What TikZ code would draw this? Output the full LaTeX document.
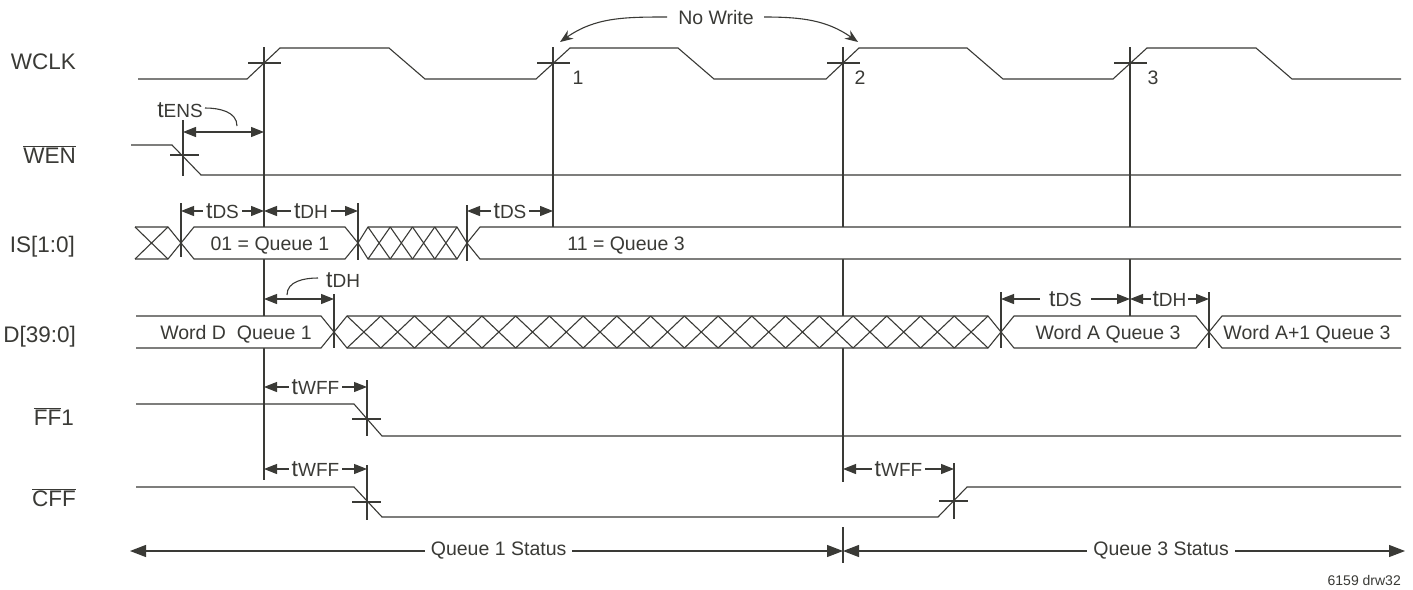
\documentclass[tikz,border=0pt]{standalone}
\usepackage{fontspec}
\setmainfont{Liberation Sans}
\usetikzlibrary{arrows.meta}
\definecolor{ink}{RGB}{58,58,54}
\newcommand{\tsym}[1]{{\fontsize{23}{23}\selectfont t}{\fontsize{19}{19}\selectfont #1}}
\newcommand{\hatchbus}[6]{%
  \pgfmathsetmacro{\hbw}{(#2-#1-2*#3)/#4}%
  \pgfmathsetmacro{\hbm}{(#5+#6)/2}%
  \draw[sig,fill=white] (#1,\hbm)--(#1+#3,#5)--(#2-#3,#5)--(#2,\hbm)--(#2-#3,#6)--(#1+#3,#6)--cycle;%
  \foreach \k in {1,...,#4}{%
    \pgfmathsetmacro{\xa}{#1+#3+(\k-1)*\hbw}%
    \pgfmathsetmacro{\xb}{\xa+\hbw}%
    \draw[sig] (\xa,#5)--(\xb,#6) (\xa,#6)--(\xb,#5);}%
}
\newcommand{\hexbus}[5]{%
  \pgfmathsetmacro{\hbm}{(#4+#5)/2}%
  \draw[sig,fill=white] (#1,\hbm)--(#1+#3,#4)--(#2-#3,#4)--(#2,\hbm)--(#2-#3,#5)--(#1+#3,#5)--cycle;%
}
\begin{document}
\begin{tikzpicture}[x=1pt,y=-1pt,
  sig/.style={draw=ink,line width=1.1pt},
  dim/.style={draw=ink,line width=1.1pt,{Triangle[length=13pt,width=10pt]}-{Triangle[length=13pt,width=10pt]}},
  bigdim/.style={draw=ink,line width=1.1pt,{Triangle[length=16pt,width=12pt]}-{Triangle[length=16pt,width=12pt]}},
  dl/.style={fill=white,text=ink,inner sep=3pt,font=\fontsize{19.5}{22}\selectfont},
  txt/.style={text=ink,inner sep=0pt,anchor=base,font=\fontsize{19.5}{22}\selectfont},
  siglab/.style={text=ink,inner sep=0pt,anchor=base east,font=\fontsize{22.5}{24}\selectfont},
  curv/.style={draw=ink,line width=1.1pt},
  nwarrow/.style={draw=ink,line width=1.1pt,-{Stealth[length=13pt,width=10pt]}},
]
\fill[white] (0,0) rectangle (1413,589);
\useasboundingbox (0,0) rectangle (1413,589);

% signal names
\node[siglab] (lwclk) at (76,69) {WCLK};
\node[siglab] (lwen) at (76,163) {$\overline{\mbox{WEN}}$};
\node[siglab] (lis) at (75,252) {IS[1:0]};
\node[siglab] (ld) at (76,342) {D[39:0]};
\node[siglab] (lff) at (74,425) {$\overline{\mbox{FF}}$1};
\node[siglab] (lcff) at (76,506) {$\overline{\mbox{CFF}}$};

% long vertical reference lines
\draw[sig] (264,47) -- (264,480);
\draw[sig] (553,47) -- (553,227);
\draw[sig] (843,47) -- (843,482);
\draw[sig] (1130,47) -- (1130,316);
\draw[sig] (843,527) -- (843,563);

% WCLK
\draw[sig] (138,79) -- (247,79) -- (280,48) -- (389,48) -- (425,79) -- (536,79) -- (570,48) -- (678,48) -- (714,79)
  -- (826,79) -- (859,48) -- (967,48) -- (1003,79) -- (1113,79) -- (1147,48) -- (1256,48) -- (1292,79) -- (1401,79);
\foreach \v in {264,553,843,1130} \draw[sig] (\v-16,63) -- (\v+17,63);
\node[txt] (n1) at (578,84) {1};
\node[txt] (n2) at (860,84) {2};
\node[txt] (n3) at (1153,84) {3};

% No Write
\node[txt] (nw) at (716,24) {No Write};
\draw[nwarrow] (667,17) to[out=180,in=35] (560,42);
\draw[nwarrow] (764,17) to[out=0,in=145] (858,42);

% WEN
\draw[sig] (131,145) -- (172,145) -- (201,175) -- (1401,175);
\draw[sig] (183,120) -- (183,176);
\draw[sig] (170,155) -- (199,155);
\draw[dim] (183,132) -- (264,132);
\node[text=ink,inner sep=0pt,anchor=base east] (tens) at (203,117) {\tsym{ENS}};
\draw[curv] (205,108) to[out=0,in=90] (237,126);

% IS[1:0] bus
\path[fill=white] (135,227) -- (168,227) -- (181,243) -- (168,259) -- (135,259) -- cycle;
\draw[sig] (135,227) -- (168,227) -- (181,243) -- (168,259) -- (135,259);
\draw[sig] (135,227) -- (168,259) (135,259) -- (168,227);
\hexbus{181}{358}{13}{227}{259}
\hatchbus{358}{467}{10}{4}{227}{259}
\path[fill=white] (467,243) -- (480,227) -- (1401,227) -- (1401,259) -- (480,259) -- cycle;
\draw[sig] (1401,227) -- (480,227) -- (467,243) -- (480,259) -- (1401,259);
\node[txt] (is1) at (270,250) {01 = Queue 1};
\node[txt] (is3) at (626,250) {11 = Queue 3};
\draw[sig] (181,203) -- (181,257);
\draw[sig] (358,203) -- (358,260);
\draw[sig] (467,205) -- (467,261);
\draw[dim] (181,211) -- node[dl] {\tsym{DS}} (264,211);
\draw[dim] (264,211) -- node[dl] {\tsym{DH}} (358,211);
\draw[dim] (467,211) -- node[dl] {\tsym{DS}} (553,211);

% D[39:0] bus
\path[fill=white] (136,316) -- (321,316) -- (334,332) -- (321,348) -- (136,348) -- cycle;
\draw[sig] (136,316) -- (321,316) -- (334,332) -- (321,348) -- (136,348);
\hatchbus{334}{1001}{13}{19}{316}{348}
\hexbus{1001}{1209}{13}{316}{348}
\path[fill=white] (1209,332) -- (1222,316) -- (1401,316) -- (1401,348) -- (1222,348) -- cycle;
\draw[sig] (1401,316) -- (1222,316) -- (1209,332) -- (1222,348) -- (1401,348);
\node[txt] (dd) at (236,339) {Word D~ Queue 1};
\node[txt] (da) at (1108,339) {Word A Queue 3};
\node[txt] (da1) at (1307,339) {Word A+1 Queue 3};
\draw[sig] (334,294) -- (334,348);
\draw[sig] (1001,292) -- (1001,348);
\draw[sig] (1209,292) -- (1209,348);
\draw[dim] (264,299) -- (334,299);
\node[text=ink,inner sep=0pt,anchor=base west] (tdh) at (326,287) {\tsym{DH}};
\draw[curv] (318,278) to[out=180,in=90] (287,295);
\draw[dim] (1001,299) -- node[dl,inner xsep=9pt] {\tsym{DS}} (1130,299);
\draw[dim] (1130,299) -- node[dl,inner xsep=2pt] {\tsym{DH}} (1209,299);

% FF1
\draw[sig] (136,404) -- (354,404) -- (382,436) -- (1401,436);
\draw[sig] (367,380) -- (367,436);
\draw[sig] (352,419) -- (381,419);
\draw[dim] (264,387) -- node[dl] {\tsym{WFF}} (367,387);

% CFF
\draw[sig] (136,487) -- (354,487) -- (382,517) -- (938,517) -- (967,487) -- (1401,487);
\draw[sig] (367,465) -- (367,520);
\draw[sig] (352,502) -- (381,502);
\draw[sig] (954,463) -- (954,519);
\draw[sig] (939,501) -- (968,501);
\draw[dim] (264,469) -- node[dl] {\tsym{WFF}} (367,469);
\draw[dim] (843,469) -- node[dl] {\tsym{WFF}} (954,469);

% Status
\draw[bigdim] (130,551) -- node[dl,pos=0.517,inner xsep=6pt] {Queue 1 Status} (843,551);
\draw[bigdim] (843,551) -- node[dl,pos=0.566,inner xsep=6pt] {Queue 3 Status} (1405,551);

\node[text=ink,inner sep=0pt,anchor=base east,font=\fontsize{14}{16}\selectfont] (drw) at (1401,585) {6159 drw32};
\end{tikzpicture}
\end{document}
